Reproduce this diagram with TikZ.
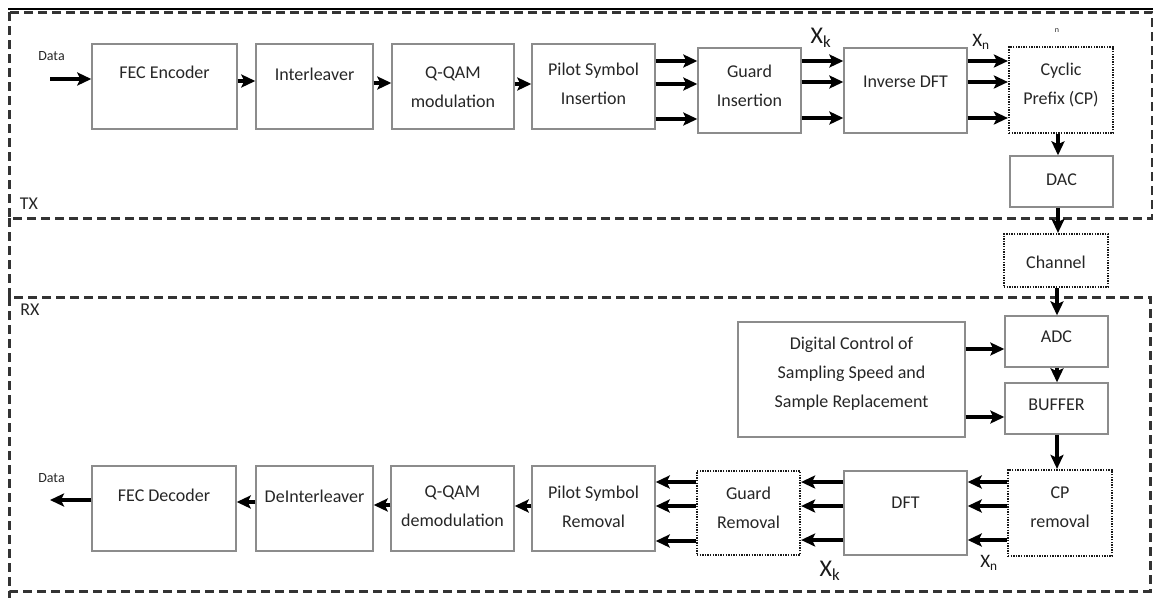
\documentclass[tikz,border=0pt]{standalone}
\usepackage{fontspec}
\setmainfont{Carlito}
\usetikzlibrary{arrows.meta}
\begin{document}
\begin{tikzpicture}[x=1pt,y=-1pt,
 box/.style={draw=black!45, line width=1.4pt, inner sep=0pt},
 dbox/.style={draw=black!90, line width=2.2pt, dash pattern=on 1.4pt off 1.2pt, inner sep=0pt},
 txt/.style={font=\fontsize{18}{29}\selectfont, text=black!85, align=center, inner sep=0pt},
 small/.style={font=\fontsize{14}{14}\selectfont, text=black!85, inner sep=0pt},
 sig/.style={font=\fontsize{24}{24}\selectfont, text=black!90, inner sep=0pt},
 arr/.style={line width=3.3pt, -{Stealth[length=14pt,width=13pt,inset=3pt]}},
 frame/.style={draw=black!80, line width=3pt, dash pattern=on 9pt off 5pt},
]
\useasboundingbox (0,0) rectangle (1153,598);
% frames
\draw[line width=1.2pt] (8,9) -- (1153,9);
\draw[frame] (9,12) rectangle (1152,218);
\draw[frame] (9,218) -- (9,297);
\draw[frame] (9,297) rectangle (1150,591);
\draw[frame] (9,591) -- (9,598);
\node[small, font=\fontsize{18}{18}\selectfont] (tx) at (29,204) {TX};
\node[small, font=\fontsize{18}{18}\selectfont] (rx) at (30,310) {RX};

% TX boxes
\node[box, minimum width=145pt, minimum height=85pt] (fec) at (164.5,86.5) {};
\node[txt] (fect) at (164.5,72) {FEC Encoder};
\node[box, minimum width=117pt, minimum height=85pt] (inter) at (314.5,86.5) {};
\node[txt] (intert) at (314.5,74) {Interleaver};
\node[box, minimum width=122pt, minimum height=85pt] (qam) at (453,86.5) {};
\node[txt] (qamt) at (453,87) {Q-QAM\\modulation};
\node[box, minimum width=123pt, minimum height=85pt] (pilot) at (593.5,86.5) {};
\node[txt] (pilott) at (593.5,84) {Pilot Symbol\\Insertion};
\node[box, minimum width=103pt, minimum height=85pt] (guard) at (749.5,90.5) {};
\node[txt] (guardt) at (749.5,86) {Guard\\Insertion};
\node[box, minimum width=123pt, minimum height=85pt] (idft) at (905.5,90.5) {};
\node[txt] (idftt) at (905.5,82) {Inverse DFT};
\node[dbox, minimum width=104pt, minimum height=86pt] (cp) at (1061,90) {};
\node[txt] (cpt) at (1061,85) {Cyclic\\Prefix (CP)};
\node[box, minimum width=103pt, minimum height=51pt] (dac) at (1061.5,181.5) {};
\node[txt] (dact) at (1061.5,180) {DAC};
\node[dbox, minimum width=104pt, minimum height=53pt] (chan) at (1056,260.5) {};
\node[txt] (chant) at (1056,262) {Channel};

% TX labels
\node[small] (datain) at (51.5,56) {Data};
\coordinate (din) at (50,79);
\node[sig] (xk1) at (821,38) {X\textsubscript{k}};
\node[sig, font=\fontsize{19}{19}\selectfont] (xn1) at (981,42) {X\textsubscript{n}};
\node[small, font=\fontsize{8}{8}\selectfont] (nn) at (1057,31) {n};

% TX arrows
\draw[arr] (din) -- (fec.west |- din);
\draw[arr] (fec.east |- 0,81) -- (inter.west |- 0,81);
\draw[arr] (inter.east |- 0,83) -- (qam.west |- 0,83);
\draw[arr] (qam.east |- 0,84) -- (pilot.west |- 0,84);
\foreach \yy in {61,84,119}{\draw[arr] (pilot.east |- 0,\yy) -- (guard.west |- 0,\yy);}
\foreach \yy in {61,82,118}{\draw[arr] (guard.east |- 0,\yy) -- (idft.west |- 0,\yy);}
\foreach \yy in {61,82,118}{\draw[arr] (idft.east |- 0,\yy) -- (cp.west |- 0,\yy);}
\draw[arr] (cp.south -| 1058,0) -- (dac.north -| 1058,0);
\draw[arr] (dac.south -| 1058,0) -- (chan.north -| 1058,0);

% RX boxes
\node[box, minimum width=103pt, minimum height=51pt] (adc) at (1056.5,341.5) {};
\node[txt] (adct) at (1056.5,337) {ADC};
\node[box, minimum width=103pt, minimum height=51pt] (buf) at (1056.5,408.5) {};
\node[txt] (buft) at (1056.5,405) {BUFFER};
\node[box, minimum width=227pt, minimum height=115pt] (dig) at (851.5,379.5) {};
\node[txt] (digt) at (851.5,373.5) {Digital Control of\\Sampling Speed and\\Sample Replacement};
\node[dbox, minimum width=104pt, minimum height=86pt] (cprm) at (1060,513) {};
\node[txt] (cprmt) at (1060,507) {CP\\removal};
\node[box, minimum width=123pt, minimum height=84pt] (dft) at (905.5,513) {};
\node[txt] (dftt) at (905.5,503) {DFT};
\node[dbox, minimum width=103pt, minimum height=84pt] (grm) at (748.5,513) {};
\node[txt] (grmt) at (748.5,508) {Guard\\Removal};
\node[box, minimum width=123pt, minimum height=85pt] (prm) at (593.5,508.5) {};
\node[txt] (prmt) at (593.5,507) {Pilot Symbol\\Removal};
\node[box, minimum width=123pt, minimum height=85pt] (qdem) at (452.5,508.5) {};
\node[txt] (qdemt) at (452.5,506.5) {Q-QAM\\demodulation};
\node[box, minimum width=117pt, minimum height=85pt] (dint) at (314.5,508.5) {};
\node[txt] (dintt) at (314.5,496) {DeInterleaver};
\node[box, minimum width=144pt, minimum height=85pt] (fecd) at (164,508.5) {};
\node[txt] (fecdt) at (164,495) {FEC Decoder};

% RX labels
\node[small] (dataout) at (51.5,478) {Data};
\coordinate (dout) at (50,500);
\node[sig] (xk2) at (830,571) {X\textsubscript{k}};
\node[sig, font=\fontsize{19}{19}\selectfont] (xn2) at (989,563) {X\textsubscript{n}};

% RX arrows
\draw[arr] (chan.south -| 1057,0) -- (adc.north -| 1057,0);
\draw[arr] (dig.east |- 0,349) -- (adc.west |- 0,349);
\draw[arr] (dig.east |- 0,417) -- (buf.west |- 0,417);
\draw[arr] (adc.south -| 1057,0) -- (buf.north -| 1057,0);
\draw[arr] (buf.south -| 1057,0) -- (cprm.north -| 1057,0);
\foreach \yy in {482,506,540}{\draw[arr] (cprm.west |- 0,\yy) -- (dft.east |- 0,\yy);}
\foreach \yy in {482,506,540}{\draw[arr] (dft.west |- 0,\yy) -- (grm.east |- 0,\yy);}
\foreach \yy in {482,506,541}{\draw[arr] (grm.west |- 0,\yy) -- (prm.east |- 0,\yy);}
\draw[arr] (prm.west |- 0,506) -- (qdem.east |- 0,506);
\draw[arr] (qdem.west |- 0,505) -- (dint.east |- 0,505);
\draw[arr] (dint.west |- 0,502) -- (fecd.east |- 0,502);
\draw[arr] (fecd.west |- dout) -- (dout);
\end{tikzpicture}
\end{document}
